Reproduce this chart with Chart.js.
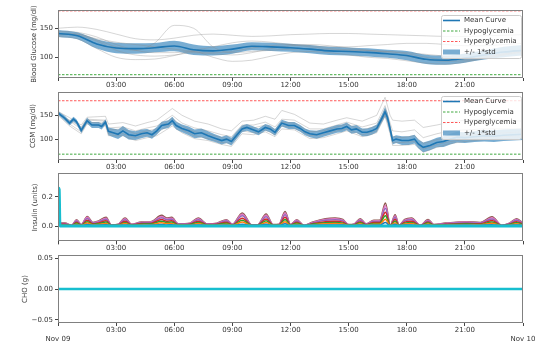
<!DOCTYPE html>
<html>
<head>
<meta charset="utf-8">
<script src="https://cdn.jsdelivr.net/npm/chart.js@4.4.1/dist/chart.umd.min.js"></script>
<style>
  html, body { margin: 0; padding: 0; background: #fff; }
  #wrap { position: relative; width: 550px; height: 348px; }
  #wrap canvas { position: absolute; left: 0; top: 0; }
</style>
</head>
<body>
<div id="wrap">
  <canvas id="bgChart" width="550" height="348"></canvas>
  <canvas id="cgmChart" width="550" height="348"></canvas>
  <canvas id="insChart" width="550" height="348"></canvas>
  <canvas id="choChart" width="550" height="348"></canvas>
</div>
<script>
// x axis is hours since Nov 09 00:00
const hourTicks = [0, 3, 6, 9, 12, 15, 18, 21, 24];
const dayLabels = ['Nov 09', 'Nov 10'];
const hypoLevel = 70;
const hyperLevel = 180;

// blood glucose (hourly)
const bgTimes = [0,1,2,3,4,5,6,7,8,9,10,11,12,13,14,15,16,17,18,19,20,21,22,23,24];
const bgMean = [141,137,123,116,115, 116.5,119.5,113,111,114, 119,118,116.5,114,111, 110,108.5,106,103,96.5, 95,98.5,104,109,112];
const bgStd = [6,6,8,9,9, 8,9,9,8,8, 7,7,7,7,7, 7,7,7,8,8, 8,8,8,9,9];
const bgGrey = [
  [150,152,148,140,132, 130,133,138,140,138, 136,137,139,140,141, 141,140,139,138,137, 136,136,137,138,139],
  [138,140,130,118,112, 125,155,150,118,108, 110,112,114,114,113, 112,111,110,108,105, 102,100,102,106,110],
  [136,132,115,100,96, 97,103,110,100,93, 95,102,108,110,108, 104,100,98,94,90, 88,92,98,104,108],
  [145,143,135,122,112, 108,108,112,118,125, 128,126,122,118,115, 113,112,110,106,100, 96,96,100,106,112],
  [140,138,128,112,104, 102,104,108,106,104, 108,115,120,122,120, 116,112,108,102,96, 93,94,98,104,110],
  [142,140,132,126,122, 118,114,110,108,110, 116,120,122,120,118, 118,120,122,124,124, 122,120,120,122,124]
];

// CGM
const cgmTimes = [0,0.35,0.6,0.8,0.95,1.2,1.5,1.75,2.1,2.25,2.45,
  2.6,2.85,3.1,3.35,3.65,4.0,4.3,4.6,4.85,5.1,5.35,5.7,5.9,
  6.1,6.4,6.75,7.05,7.4,7.75,8.1,8.45,8.7,8.95,9.2,
  9.5,9.75,10.1,10.35,10.7,10.95,11.2,11.55,11.9,12.2,
  12.5,12.75,13.0,13.35,13.7,14.05,14.4,14.65,14.9,15.15,15.4,15.7,15.95,16.2,16.45,16.7,
  16.88,17.0,17.14,17.27,17.45,
  17.75,18.1,18.4,18.6,18.85,19.2,19.55,19.9,20.25,20.6,21.0,21.5,22.0,22.5,23.0,23.5,24.0];
const cgmMean = [155,144,134,142,137,119,139,130,130,127,136,
  117,114,111,118,110,108,112,114,110,118,129,132,139,
  129,123,118,112,114,108,103,98,101,96,108,
  122,125,120,116,125,122,115,134,129,129,
  123,116,112,110,114,118,122,123,127,120,122,115,115,118,123,142,
  157,146,122,98,101,
  98,98,101,91,84,88,94,96,101,105,104,106,108,107,109,110,111];
const cgmStd = [4,5,5,5,5,6,6,6,6,6,6,
  8,9,10,10,10,9,9,8,8,8,8,8,8,
  8,8,9,9,9,9,8,8,8,8,8,
  7,7,7,7,7,7,7,7,7,7,
  7,7,7,8,8,8,8,8,8,8,8,8,8,8,8,8,
  10,10,10,8,8,
  9,9,9,9,10,10,10,11,11,11,11,11,12,12,12,12,12];
const cgmGreyTimes = [0,0.6,1.2,1.5,2.45, 2.6,3.35,4.0,4.6,5.1, 5.9,6.4,7.05,7.75,8.45,
  8.95,9.5,10.1,10.7,11.2, 11.55,12.2,13.0,13.7,14.4, 14.9,15.7,16.45,16.88,17.14,
  17.27,17.75,18.4,18.85,19.55, 20.25,21.0,22.0,23.0,24.0];
const cgmGrey = [
  [158,145,130,146,148, 132,135,128,135,140, 164,150,138,132,122, 118,138,140,148,142, 160,152,134,132,140, 145,138,150,187,150, 140,138,140,125,130, 136,140,142,140,138],
  [152,140,126,142,140, 124,126,118,124,128, 150,134,124,118,110, 106,130,130,136,126, 142,140,122,122,130, 136,126,134,170,135, 118,116,120,104,112, 118,120,122,122,122],
  [150,128,112,132,128, 108,108,98,104,108, 128,114,102,98,90, 86,112,110,116,106, 122,120,102,104,112, 118,106,114,148,112, 88,88,90,74,84, 92,96,100,102,104],
  [156,132,116,136,134, 112,112,104,110,114, 134,120,108,102,94, 92,118,114,120,110, 128,124,108,110,118, 122,110,118,152,118, 94,94,96,80,90, 96,100,104,106,108],
  [154,138,122,140,138, 120,122,112,118,122, 144,128,116,112,104, 100,126,124,130,120, 136,134,116,118,126, 132,120,128,162,128, 106,104,108,92,100, 106,108,112,114,116]
];

// insulin
const insTimes = [0,0.03,0.06,0.1,0.36, 0.7,0.96,1.2,1.51,1.8, 2.1,2.48,2.75,3.1,3.46,
  3.8,4.3,4.8,5.35,5.6, 5.87,6.2,6.8,7.24,7.7, 8.2,8.7,9.0,9.51,10.0,
  10.3,10.74,11.1,11.4,11.72, 12.0,12.32,12.7,13.2,13.8, 14.3,14.7,15.0,15.3,15.6,
  15.9,16.3,16.6,16.9,17.15, 17.4,17.6,17.9,18.25,18.7, 19.1,19.4,20.0,21.1,21.8,
  22.4,22.9,23.3,23.67,24.0];
const insBrown = [0.20,0.21,0.19,0.02,0.02, 0.005,0.043,0.01,0.066,0.025, 0.035,0.06,0.008,0.012,0.055,
  0.012,0.028,0.03,0.073,0.055, 0.06,0.015,0.02,0.055,0.015, 0.02,0.043,0.012,0.089,0.008,
  0.008,0.082,0.01,0.012,0.10, 0.01,0.043,0.005,0.03,0.05, 0.055,0.045,0.01,0.015,0.05,
  0.015,0.04,0.04,0.157,0.005, 0.077,0.005,0.045,0.055,0.005, 0.045,0.01,0.02,0.03,0.025,
  0.063,0.005,0.02,0.05,0.02];
const insPink = [0.17,0.18,0.16,0.018,0.018, 0.004,0.039,0.009,0.06,0.022, 0.032,0.054,0.007,0.011,0.05,
  0.011,0.025,0.027,0.066,0.05, 0.054,0.013,0.018,0.05,0.013, 0.018,0.039,0.011,0.08,0.007,
  0.007,0.074,0.009,0.011,0.09, 0.009,0.039,0.004,0.027,0.045, 0.05,0.04,0.009,0.013,0.045,
  0.013,0.036,0.036,0.141,0.004, 0.069,0.004,0.04,0.05,0.004, 0.04,0.009,0.018,0.027,0.022,
  0.057,0.004,0.018,0.045,0.018];
const insPurple = [0.12,0.13,0.12,0.015,0.015, 0.004,0.034,0.008,0.052,0.02, 0.027,0.047,0.006,0.009,0.043,
  0.009,0.022,0.023,0.057,0.043, 0.047,0.012,0.016,0.043,0.012, 0.016,0.034,0.009,0.07,0.006,
  0.006,0.064,0.008,0.009,0.078, 0.008,0.034,0.004,0.023,0.039, 0.043,0.035,0.008,0.012,0.039,
  0.012,0.031,0.031,0.122,0.004, 0.06,0.004,0.035,0.043,0.004, 0.035,0.008,0.016,0.023,0.02,
  0.049,0.004,0.016,0.039,0.016];
const insRed = [0.13,0.14,0.13,0.012,0.012, 0.003,0.026,0.006,0.04,0.015, 0.021,0.036,0.005,0.007,0.033,
  0.007,0.017,0.018,0.044,0.033, 0.036,0.009,0.012,0.033,0.009, 0.012,0.026,0.007,0.053,0.005,
  0.005,0.049,0.006,0.007,0.06, 0.006,0.026,0.003,0.018,0.03, 0.033,0.027,0.006,0.009,0.03,
  0.009,0.024,0.024,0.094,0.003, 0.046,0.003,0.027,0.033,0.003, 0.027,0.006,0.012,0.018,0.015,
  0.038,0.003,0.012,0.03,0.012];
const insGreen = [0.06,0.07,0.06,0.009,0.009, 0.002,0.019,0.005,0.03,0.011, 0.016,0.027,0.004,0.005,0.025,
  0.005,0.013,0.014,0.033,0.025, 0.027,0.007,0.009,0.025,0.007, 0.009,0.019,0.005,0.04,0.004,
  0.004,0.037,0.005,0.005,0.045, 0.005,0.019,0.002,0.014,0.023, 0.025,0.02,0.005,0.007,0.023,
  0.007,0.018,0.018,0.071,0.002, 0.035,0.002,0.02,0.025,0.002, 0.02,0.005,0.009,0.014,0.011,
  0.028,0.002,0.009,0.023,0.009];
const insOrange = [0.04,0.05,0.04,0.006,0.006, 0.002,0.013,0.003,0.02,0.008, 0.011,0.018,0.002,0.004,0.017,
  0.004,0.008,0.009,0.022,0.017, 0.018,0.005,0.006,0.017,0.005, 0.006,0.013,0.004,0.027,0.002,
  0.002,0.025,0.003,0.004,0.03, 0.003,0.013,0.002,0.009,0.015, 0.017,0.014,0.003,0.005,0.015,
  0.005,0.012,0.012,0.047,0.002, 0.023,0.002,0.014,0.017,0.002, 0.014,0.003,0.006,0.009,0.008,
  0.019,0.002,0.006,0.015,0.006];
const insBlue = [0.03,0.03,0.03,0.003,0.003, 0.001,0.006,0.002,0.01,0.004, 0.005,0.009,0.001,0.002,0.008,
  0.002,0.004,0.005,0.011,0.008, 0.009,0.002,0.003,0.008,0.002, 0.003,0.006,0.002,0.013,0.001,
  0.001,0.012,0.002,0.002,0.015, 0.002,0.006,0.001,0.005,0.008, 0.008,0.007,0.002,0.002,0.008,
  0.002,0.006,0.006,0.024,0.001, 0.012,0.001,0.007,0.008,0.001, 0.007,0.002,0.003,0.005,0.004,
  0.009,0.001,0.003,0.008,0.003];
const insCyan = [0.25,0.26,0.25,0,0, 0,0,0,0,0, 0,0,0,0,0,
  0,0,0,0,0, 0,0,0,0,0, 0,0,0,0,0,
  0,0,0,0,0, 0,0,0,0,0, 0,0,0,0,0,
  0,0,0,0,0, 0,0,0,0,0, 0,0,0,0,0,
  0,0,0,0,0];

// carbohydrates
const choTimes = [0, 24];
const choValues = [0, 0];

const FONT = 'DejaVu Sans';
const meanColor = '#1f77b4';
const bandColor = 'rgba(31,119,180,0.6)';
const greyColor = 'rgba(140,140,140,0.4)';
const hypoColor = 'rgba(0,140,0,0.75)';
const hyperColor = 'rgba(255,0,0,0.65)';
const dash = [2.5, 1.5];

Chart.defaults.font.family = FONT;
Chart.defaults.font.size = 7;
Chart.defaults.color = '#333';

function pts(xs, ys) {
  return xs.map((x, i) => ({ x: x, y: ys[i] }));
}

function hourLabel(v, withDays) {
  if (v === 0 || v === 24) return withDays ? ['', dayLabels[v / 24]] : '';
  return String(v).padStart(2, '0') + ':00';
}

function glucoseSets(times, mean, std, greyTimes, greys, smooth) {
  const mode = smooth ? 'monotone' : 'default';
  const sets = [{ label: 'Mean Curve', data: pts(times, mean), borderColor: meanColor, borderWidth: 1.6, cubicInterpolationMode: mode }];
  greys.forEach(g => sets.push({ label: '', data: pts(greyTimes, g), borderColor: greyColor, borderWidth: 0.9, cubicInterpolationMode: mode }));
  sets.push({ label: '+/- 1*std', data: pts(times, mean.map((m, i) => m + std[i])), borderWidth: 0, backgroundColor: bandColor, fill: '+1', cubicInterpolationMode: mode });
  sets.push({ label: '', data: pts(times, mean.map((m, i) => m - std[i])), borderWidth: 0, fill: false, cubicInterpolationMode: mode });
  sets.push({ label: 'Hypoglycemia', data: pts([0, 24], [hypoLevel, hypoLevel]), borderColor: hypoColor, borderWidth: 1, borderDash: dash });
  sets.push({ label: 'Hyperglycemia', data: pts([0, 24], [hyperLevel, hyperLevel]), borderColor: hyperColor, borderWidth: 1, borderDash: dash });
  return sets;
}

const framePlugin = {
  id: 'frame',
  afterDatasetsDraw(chart) {
    const { ctx, chartArea: a } = chart;
    ctx.save();
    ctx.strokeStyle = '#808080';
    ctx.lineWidth = 1;
    ctx.strokeRect(Math.round(a.left) + 0.5, Math.round(a.top) + 0.5, Math.round(a.width) - 1, Math.round(a.height) - 1);
    ctx.restore();
  }
};

const legendItems = [
  { text: 'Mean Curve', kind: 'line', color: meanColor },
  { text: 'Hypoglycemia', kind: 'dash', color: hypoColor },
  { text: 'Hyperglycemia', kind: 'dash', color: hyperColor },
  { text: '+/- 1*std', kind: 'box', color: bandColor }
];

function boxLegend(topGap) {
  return {
    id: 'boxLegend',
    afterDraw(chart) {
      const { ctx, chartArea: a } = chart;
      const w = 80, h = 43, row = 10.5;
      const x0 = Math.round(a.right - w - 2), y0 = Math.round(a.top + topGap);
      ctx.save();
      ctx.beginPath();
      ctx.roundRect(x0 + 0.5, y0 + 0.5, w, h, 2);
      ctx.fillStyle = 'rgba(255,255,255,0.8)';
      ctx.fill();
      ctx.strokeStyle = '#cccccc';
      ctx.lineWidth = 1;
      ctx.stroke();
      ctx.font = '7px ' + FONT;
      ctx.textBaseline = 'middle';
      legendItems.forEach((it, i) => {
        const cy = y0 + 5.5 + i * row;
        if (it.kind === 'box') {
          ctx.fillStyle = it.color;
          ctx.fillRect(x0 + 2, cy - 2.5, 17, 5);
        } else {
          ctx.beginPath();
          ctx.setLineDash(it.kind === 'dash' ? dash : []);
          ctx.strokeStyle = it.color;
          ctx.lineWidth = it.kind === 'dash' ? 1 : 1.6;
          ctx.moveTo(x0 + 2, cy);
          ctx.lineTo(x0 + 19, cy);
          ctx.stroke();
          ctx.setLineDash([]);
        }
        ctx.fillStyle = '#333';
        ctx.fillText(it.text, x0 + 23, cy);
      });
      ctx.restore();
    }
  };
}

function makePanel(id, top, bottom, y, datasets, extra, withDays) {
  const xAxisH = withDays ? 24 : 14;
  return new Chart(document.getElementById(id), {
    type: 'line',
    data: { datasets: datasets },
    options: {
      responsive: false,
      animation: false,
      events: [],
      layout: { padding: { top: top, left: 0, right: 27, bottom: 348 - bottom - xAxisH } },
      elements: { point: { radius: 0 }, line: { tension: 0 } },
      plugins: { legend: { display: false }, tooltip: { enabled: false } },
      scales: {
        x: {
          type: 'linear', min: 0, max: 24,
          afterBuildTicks: s => { s.ticks = hourTicks.map(v => ({ value: v })); },
          afterFit: s => { s.height = xAxisH; },
          ticks: { autoSkip: false, maxRotation: 0, padding: 0, font: { size: 7, lineHeight: withDays ? 1.3 : 1.2 },
                   callback: v => hourLabel(v, withDays) },
          grid: { drawOnChartArea: false, tickLength: 3, color: '#444' },
          border: { display: false }
        },
        y: {
          min: y.min, max: y.max,
          afterBuildTicks: s => { s.ticks = y.ticks.map(v => ({ value: v })); },
          afterFit: s => { s.width = 58; },
          ticks: { padding: 2, callback: y.fmt },
          grid: { drawOnChartArea: false, tickLength: 3, color: '#444' },
          border: { display: false },
          title: { display: true, text: y.title, padding: { top: y.titlePad, bottom: 0 } }
        }
      }
    },
    plugins: [framePlugin].concat(extra)
  });
}

makePanel('bgChart', 10, 78,
  { min: 64.3, max: 181.5, ticks: [100, 150], fmt: v => String(v), title: 'Blood Glucose (mg/dl)', titlePad: 29.5 },
  glucoseSets(bgTimes, bgMean, bgStd, bgTimes, bgGrey, true), [boxLegend(5)], false);

makePanel('cgmChart', 92, 160,
  { min: 58, max: 198, ticks: [100, 150], fmt: v => String(v), title: 'CGM (mg/dl)', titlePad: 29 },
  glucoseSets(cgmTimes, cgmMean, cgmStd, cgmGreyTimes, cgmGrey, false), [boxLegend(4)], false);

const insSeries = [
  { data: insCyan, color: '#17becf', width: 3 },
  { data: insBlue, color: '#1f77b4', width: 1.5 },
  { data: insOrange, color: '#ff7f0e', width: 1.5 },
  { data: insGreen, color: '#2ca02c', width: 1.5 },
  { data: insRed, color: '#d62728', width: 1.5 },
  { data: insPurple, color: '#9467bd', width: 1.5 },
  { data: insPink, color: '#e377c2', width: 1.5 },
  { data: insBrown, color: '#8c564b', width: 1.5 }
];
makePanel('insChart', 173.4, 241.4,
  { min: -0.105, max: 0.36, ticks: [0, 0.2], fmt: v => v.toFixed(1), title: 'Insulin (units)', titlePad: 30.8 },
  insSeries.map(s => ({ label: '', data: pts(insTimes, s.data), borderColor: s.color, borderWidth: s.width, cubicInterpolationMode: 'monotone' })),
  [], false);

makePanel('choChart', 255, 323,
  { min: -0.055, max: 0.055, ticks: [-0.05, 0, 0.05], fmt: v => v.toFixed(2).replace('-', '\u2212'), title: 'CHO (g)', titlePad: 20.8 },
  [{ label: '', data: pts(choTimes, choValues), borderColor: '#17becf', borderWidth: 2.5 }],
  [], true);
</script>
</body>
</html>
